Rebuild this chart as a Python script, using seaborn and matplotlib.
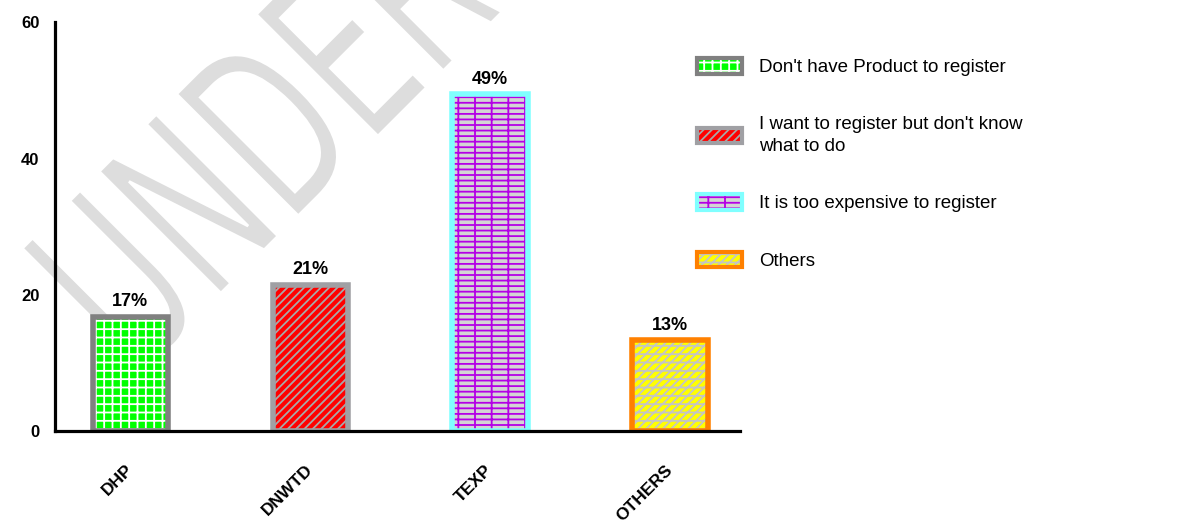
import matplotlib
matplotlib.use("Agg")
import matplotlib.pyplot as plt
import seaborn as sns
import pandas as pd
from matplotlib.patches import Patch, PathPatch
from matplotlib.textpath import TextPath
from matplotlib.font_manager import FontProperties
from matplotlib.transforms import Affine2D, IdentityTransform

# datos
categorias = ["DHP", "DNWTD", "TEXP", "OTHERS"]
valores = [16.7, 21.4, 49.4, 13.3]
leyenda = [
    "Don't have Product to register",
    "I want to register but don't know\nwhat to do",
    "It is too expensive to register",
    "Others",
]

# estilos por barra
relleno = ["#00ff00", "#ff0000", "#d4d4d4", "#ffff00"]
color_trama = ["#ffffff", "#a8a8a8", "#b400e6", "#c4c4c4"]
tramas = ["++", "////", "---|", "////--"]
borde = ["#808080", "#a0a0a4", "#80ffff", "#ff8000"]

sns.set_style("white")
plt.rcParams["font.family"] = ["Liberation Sans", "DejaVu Sans"]
plt.rcParams["hatch.linewidth"] = 1.3
plt.rcParams["text.color"] = "black"
plt.rcParams["xtick.color"] = "black"
plt.rcParams["ytick.color"] = "black"

df = pd.DataFrame({"cat": categorias, "val": valores})

fig, ax = plt.subplots(figsize=(11.92, 5.29), dpi=100)
fig.subplots_adjust(left=0.046, right=0.621, bottom=0.185, top=0.958)
ax.set_facecolor("none")

# marca de agua (relleno gris, borde blanco para adelgazar el trazo)
tp = TextPath((0, 0), "UNDER", size=236, prop=FontProperties(family="DejaVu Sans"))
tr = Affine2D().scale(0.62, 1).rotate_deg(45).translate(135, 150)
marca = PathPatch(tr.transform_path(tp), facecolor="#dddddd", edgecolor="white",
                  linewidth=2, transform=IdentityTransform(), zorder=-1)
fig.add_artist(marca)

# capa de relleno con trama
sns.barplot(data=df, x="cat", y="val", hue="cat", palette=relleno,
            width=0.42, legend=False, ax=ax, saturation=1)
for p, fc, hc, h in zip(ax.patches, relleno, color_trama, tramas):
    p.set_facecolor(fc)
    p.set_edgecolor(hc)
    p.set_hatch(h)
    p.set_linewidth(0)

# capa de bordes
sns.barplot(data=df, x="cat", y="val", hue="cat", palette=borde,
            width=0.42, legend=False, ax=ax, saturation=1, fill=False, linewidth=4)
n = len(categorias)
for p, ec in zip(ax.patches[n:], borde):
    p.set_facecolor("none")
    p.set_edgecolor(ec)
    p.set_linewidth(4)

# etiquetas sobre barras
for p, v in zip(ax.patches[n:], valores):
    ax.annotate(f"{v:.0f}%", (p.get_x() + p.get_width() / 2, p.get_height()),
                xytext=(0, 5), textcoords="offset points", ha="center", va="bottom",
                fontsize=13, fontweight="bold", color="black")

ax.set_ylim(0, 60)
ax.set_xlim(-0.42, 3.39)
ax.set_yticks([0, 20, 40, 60])
ax.set_xlabel("")
ax.set_ylabel("")
sns.despine(ax=ax)
for s in ["left", "bottom"]:
    ax.spines[s].set_linewidth(2.3)
    ax.spines[s].set_color("black")
ax.tick_params(axis="y", length=7, width=2.3, direction="out", labelsize=12, pad=4)
ax.tick_params(axis="x", length=6, width=2.3, direction="out", labelsize=12.5, pad=20)
plt.setp(ax.get_yticklabels(), fontweight="bold")
plt.setp(ax.get_xticklabels(), fontweight="bold", rotation=45, ha="right",
         va="center", rotation_mode="anchor")

# leyenda
handles = []
for fc, hc, h, ec in zip(relleno, color_trama, tramas, borde):
    handles.append((Patch(facecolor=fc, edgecolor=hc, hatch=h, linewidth=0),
                    Patch(facecolor="none", edgecolor=ec, linewidth=3)))
leg = fig.legend(handles, leyenda, loc="upper left", bbox_to_anchor=(0.577, 0.908),
                 frameon=False, fontsize=13.5, borderpad=0, handlelength=2.4,
                 handleheight=0.9, handletextpad=0.9, labelspacing=2.1)
for t in leg.get_texts():
    t.set_linespacing(1.4)

fig.savefig("out.png", dpi=100)
